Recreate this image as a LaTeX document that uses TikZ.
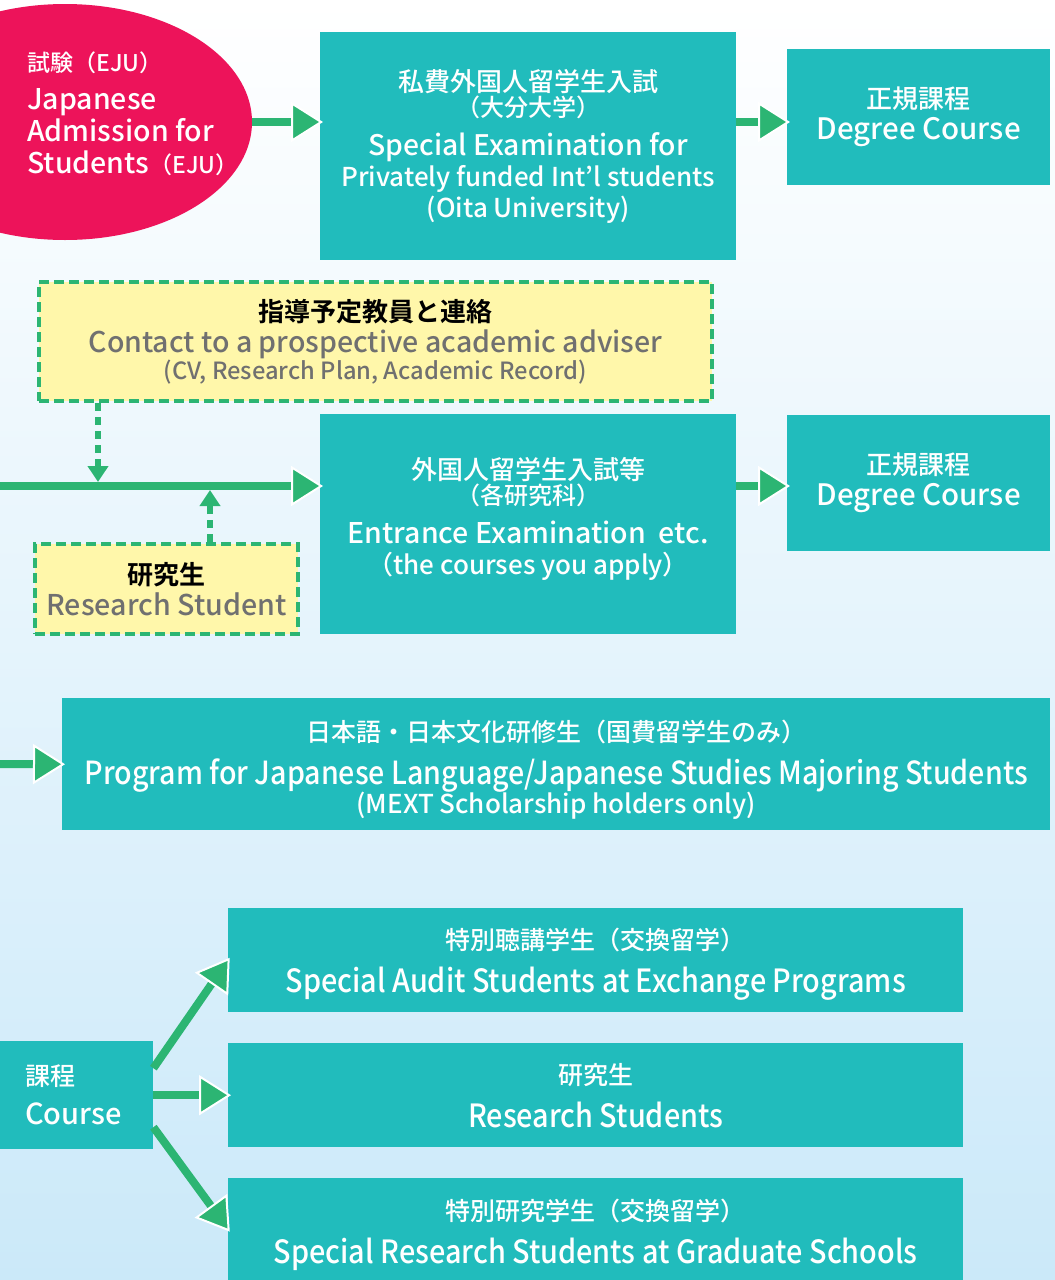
\documentclass[tikz,border=0pt]{standalone}
\usepackage{fontspec}
\setmainfont{Noto Sans CJK JP}[UprightFont=* Medium, BoldFont=* Bold]
\newfontfamily\narrow{Noto Sans CJK JP}[UprightFont=* Medium, FakeStretch=0.9]
\usetikzlibrary{arrows.meta,shapes.geometric}
\definecolor{boxteal}{RGB}{33,188,188}
\definecolor{ejupink}{RGB}{237,19,90}
\definecolor{flowgreen}{RGB}{44,181,115}
\definecolor{noteyellow}{RGB}{255,247,170}
\definecolor{notegray}{RGB}{112,112,112}
\definecolor{bgblue}{RGB}{203,233,249}
\newcommand{\fs}[1]{\fontsize{#1}{#1}\selectfont}

\begin{document}
\begin{tikzpicture}[x=1pt,y=-1pt,
  box/.style={fill=boxteal, text=white, align=center, anchor=north west, inner sep=0pt, font=\fontsize{26}{31}\selectfont},
  note/.style={fill=noteyellow, draw=flowgreen, line width=4pt, dash pattern=on 10pt off 5pt, align=center, anchor=north west, inner sep=0pt, text=notegray, font=\fontsize{26}{31}\selectfont},
  flow/.style={draw=flowgreen, line width=8pt, shorten >=-3pt, -{Triangle[length=32pt,width=40pt,color=white,fill=flowgreen,line width=2pt]}},
  hint/.style={draw=flowgreen, line width=6pt, dash pattern=on 8pt off 6pt, shorten >=4pt, -{Triangle[length=16pt,width=20pt,fill=flowgreen]}}]
\useasboundingbox (0,0) rectangle (1055,1280);
\shade[top color=white, bottom color=bgblue] (0,0) rectangle (1055,1280);

% EJU
\begin{scope}
\clip (0,0) rectangle (1055,1280);
\node[ellipse, fill=ejupink, minimum width=374, minimum height=236, inner sep=0pt] (eju) at (65,122) {};
\end{scope}
\node[anchor=west, align=left, text=white, inner sep=0pt, font=\fontsize{28.5}{32}\selectfont] (ejutext) at (27,114)
  {{\fs{23}試験（EJU）}\\[6pt]Japanese\\Admission for\\Students{\fs{23}（EJU）}};

% boxes
\node[box, minimum width=416, minimum height=228] (A) at (320,32)
  {{\fs{26}私費外国人留学生入試}\\[-6pt]{\fs{24}（大分大学）}\\[8pt]{\fs{28.3}Special Examination for}\\Privately funded Int’l students\\(Oita University)};
\node[box, minimum width=263, minimum height=136] (B) at (787,49)
  {{\fs{26}正規課程}\\{\fs{29.5}Degree Course}};
\node[note, minimum width=673, minimum height=119] (C) at (37,280)
  {{\fs{26}\bfseries\color{black}指導予定教員と連絡}\\{\fs{28.5}Contact to a prospective academic adviser}\\[-4pt]{\fs{23.7}(CV, Research Plan, Academic Record)}};
\node[box, minimum width=416, minimum height=220] (D) at (320,414)
  {{\fs{26}外国人留学生入試等}\\[-6pt]{\fs{24}（各研究科）}\\[8pt]{\fs{28.5}Entrance Examination\ \ etc.}\\（the courses you apply）\\[-14pt]\mbox{}};
\node[box, minimum width=263, minimum height=136] (E) at (787,415)
  {{\fs{26}正規課程}\\{\fs{29.5}Degree Course}};
\node[note, minimum width=263, minimum height=90] (F) at (33,542)
  {{\fs{26}\bfseries\color{black}研究生}\\{\fs{28.6}Research Student}};
\node[box, minimum width=988, minimum height=132] (G) at (62,698)
  {\mbox{}\\[1pt]{\fs{25}日本語・日本文化研修生（国費留学生のみ）}\\[12pt]{\narrow\fs{31.8}Program for Japanese Language/Japanese Studies Majoring Students}\\[-2pt]{\fs{26}(MEXT Scholarship holders only)}};
\node[box, align=left, text width=103, inner xsep=25pt, minimum height=108] (H) at (0,1041)
  {{\fs{25}課程}\\[8pt]{\fs{29}Course}};
\node[box, minimum width=735, minimum height=104] (I) at (228,908)
  {\mbox{}\\[-1pt]{\fs{25}特別聴講学生（交換留学）}\\[12pt]{\narrow\fs{32}Special Audit Students at Exchange Programs}};
\node[box, minimum width=735, minimum height=104] (J) at (228,1043)
  {{\fs{25}研究生}\\[12pt]{\narrow\fs{32}Research Students}};
\node[box, minimum width=735, minimum height=102] (K) at (228,1178)
  {\mbox{}\\[2pt]{\fs{25}特別研究学生（交換留学）}\\[12pt]{\narrow\fs{32}Special Research Students at Graduate Schools}};

% connectors
\coordinate (w2) at (0,486);
\coordinate (j1) at (98,486);
\coordinate (j2) at (210,486);
\coordinate (w3) at (0,764);
\draw[flow] (eju.east) -- (eju.east -| A.west);
\draw[flow] (A.east |- eju.east) -- (B.west |- eju.east);
\draw[flow] (w2) -- (D.west |- w2);
\draw[flow] (D.east |- w2) -- (E.west |- w2);
\draw[hint] (C.south -| j1) -- (j1);
\draw[hint] (F.north -| j2) -- (j2);
\draw[flow] (w3) -- (G.west);
\draw[flow] ([yshift=27pt]H.east) -- (I.west);
\draw[flow] (H.east) -- (J.west);
\draw[flow] ([yshift=-32pt]H.east) -- (K.west);
\end{tikzpicture}
\end{document}
